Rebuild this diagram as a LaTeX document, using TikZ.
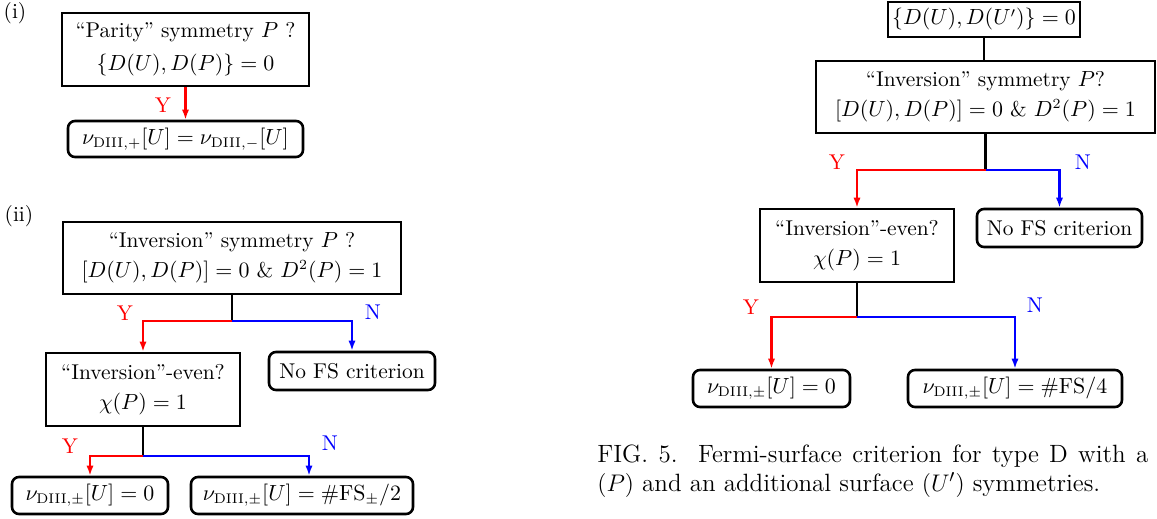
\documentclass[tikz,border=0pt]{standalone}
\usetikzlibrary{arrows.meta}
\newdimen\PX \PX=0.5pt
\tikzset{
  txt/.style={font=\fontsize{10.7}{15}\selectfont},
  sqbox/.style={txt, draw, line width=1.3pt, inner sep=0pt, align=center},
  rbox/.style={txt, draw, line width=1.3pt, inner sep=0pt, align=center, rounded corners=3.5pt},
  conn/.style={line width=1.1pt},
  yes/.style={conn, red, -{Latex[length=5pt,width=3.6pt]}},
  no/.style={conn, blue, -{Latex[length=5pt,width=3.6pt]}},
  ylab/.style={txt, text=red},
  nlab/.style={txt, text=blue},
  plab/.style={txt},
  captxt/.style={anchor=base west, inner sep=0pt, font=\fontsize{12.5}{15}\selectfont},
}
\begin{document}
\begin{tikzpicture}[x=0.5pt,y=-0.5pt]
\useasboundingbox (0,0) rectangle (1157,519);
% ---------------- panel (i)
\node[plab] (li) at (15,13) {(i)};
\node[sqbox, minimum width=247*\PX, minimum height=73*\PX] (p1) at (185.5,49.5)
  {“Parity” symmetry $P$ ?\\[1.5pt] $\{D(U),D(P)\}=0$};
\node[rbox, minimum width=235*\PX, minimum height=36*\PX] (p2) at (185.5,139)
  {$\nu_{\mathrm{DIII},+}[U]=\nu_{\mathrm{DIII},-}[U]$};
\draw[yes] (p1.south) -- (p2.north);
\node[ylab] (py) at (163,105) {Y};
% ---------------- panel (ii)
\node[plab] (lii) at (19,216) {(ii)};
\node[sqbox, minimum width=338*\PX, minimum height=72*\PX] (a) at (232,258)
  {“Inversion” symmetry $P$ ?\\ $[D(U),D(P)]=0$ \& $D^2(P)=1$};
\node[sqbox, minimum width=194*\PX, minimum height=73*\PX] (b) at (143,389.5)
  {“Inversion”-even?\\ $\chi(P)=1$};
\node[rbox, minimum width=166*\PX, minimum height=38*\PX] (c) at (352,371)
  {No FS criterion};
\node[rbox, minimum width=156*\PX, minimum height=37*\PX] (d) at (90,495.5)
  {$\nu_{\mathrm{DIII},\pm}[U]=0$};
\node[rbox, minimum width=222*\PX, minimum height=37*\PX] (e) at (302,495.5)
  {$\nu_{\mathrm{DIII},\pm}[U]=\#\mathrm{FS}_\pm/2$};
\draw[conn] (a.south) -- ++(0,26) coordinate (ja);
\draw[yes] (ja) -| (b.north);
\draw[no] (ja) -| (c.north);
\draw[conn] (b.south) -- ++(0,29) coordinate (jb);
\draw[yes] (jb) -| (d.north);
\draw[no] (jb) -| ([xshift=7*\PX]e.north);
\node[ylab] (ay) at (125,313) {Y};
\node[nlab] (an) at (373,312) {N};
\node[ylab] (by) at (70,446) {Y};
\node[nlab] (bn) at (330,443) {N};
% ---------------- right panel
\node[sqbox, minimum width=192*\PX, minimum height=35*\PX] (t) at (984,19.5)
  {$\{D(U),D(U')\}=0$};
\node[sqbox, minimum width=339*\PX, minimum height=72*\PX] (ra) at (985.5,97)
  {“Inversion” symmetry $P$?\\ $[D(U),D(P)]=0$ \& $D^2(P)=1$};
\node[sqbox, minimum width=194*\PX, minimum height=73*\PX] (rb) at (857,245.5)
  {“Inversion”-even?\\ $\chi(P)=1$};
\node[rbox, minimum width=165*\PX, minimum height=38*\PX] (rc) at (1059.5,228)
  {No FS criterion};
\node[rbox, minimum width=157*\PX, minimum height=37*\PX] (rd) at (771.5,388.5)
  {$\nu_{\mathrm{DIII},\pm}[U]=0$};
\node[rbox, minimum width=214*\PX, minimum height=37*\PX] (re) at (1015,388.5)
  {$\nu_{\mathrm{DIII},\pm}[U]=\#\mathrm{FS}/4$};
\draw[conn] (t.south) -- (t.south |- ra.north);
\draw[conn] (ra.south) -- ++(0,36) coordinate (jra);
\draw[yes] (jra) -| (rb.north);
\draw[no] (jra) -| (rc.north);
\draw[conn] (rb.south) -- ++(0,34) coordinate (jrb);
\draw[yes] (jrb) -| (rd.north);
\draw[no] (jrb) -| (re.north);
\node[ylab] (ray) at (837,162) {Y};
\node[nlab] (ran) at (1083,162) {N};
\node[ylab] (rby) at (751,307) {Y};
\node[nlab] (rbn) at (1035,305) {N};
% ---------------- caption
\node[captxt] (cap1) at (597,462)
  {\makebox[275.5pt][s]{FIG. 5.\ \ Fermi-surface criterion for type D with a}};
\node[captxt] (cap2) at (597,491)
  {$(P)$ and an additional surface $(U')$ symmetries.};
\end{tikzpicture}
\end{document}
